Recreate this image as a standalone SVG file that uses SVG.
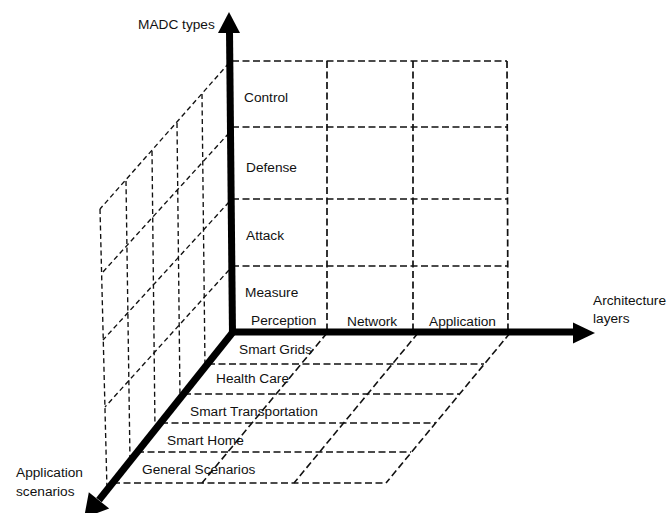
<svg xmlns="http://www.w3.org/2000/svg" width="670" height="513" viewBox="0 0 670 513">
<style>
  .t { font-family: "Liberation Sans", Arial, sans-serif; font-size: 13.7px; fill: #111; }
  .back { stroke: #111; stroke-width: 1.7; stroke-dasharray: 7 3.5; fill: none; }
  .floor { stroke: #111; stroke-width: 1.6; stroke-dasharray: 7 3.5; fill: none; }
  .side { stroke: #111; stroke-width: 1.35; stroke-dasharray: 5 3.3; fill: none; }
  .axis { stroke: #000; stroke-width: 7; fill: none; }
  .head { fill: #000; stroke: none; }
</style>
<rect width="670" height="513" fill="#fff"/>

<g id="back-wall">
  <line class="back" x1="232" y1="61" x2="507" y2="61"/>
  <line class="back" x1="232" y1="127" x2="507" y2="127"/>
  <line class="back" x1="232" y1="199" x2="508" y2="199"/>
  <line class="back" x1="232" y1="266" x2="508" y2="266"/>
  <line class="back" x1="327" y1="61" x2="327" y2="332"/>
  <line class="back" x1="413" y1="61" x2="413" y2="332"/>
  <line class="back" x1="507" y1="61" x2="508" y2="332"/>
</g>

<g id="side-wall">
  <line class="side" x1="229" y1="63" x2="100" y2="209"/>
  <line class="side" x1="229" y1="133" x2="102" y2="273"/>
  <line class="side" x1="229" y1="202" x2="103" y2="340"/>
  <line class="side" x1="229" y1="270" x2="105" y2="407"/>
  <line class="side" x1="202" y1="94" x2="205" y2="367"/>
  <line class="side" x1="177" y1="123" x2="180" y2="398"/>
  <line class="side" x1="152" y1="151" x2="155" y2="430"/>
  <line class="side" x1="126" y1="181" x2="130" y2="461"/>
  <line class="side" x1="100" y1="209" x2="107" y2="490"/>
</g>

<g id="floor">
  <line class="floor" x1="208" y1="364" x2="484" y2="364"/>
  <line class="floor" x1="184" y1="394" x2="459" y2="394"/>
  <line class="floor" x1="161" y1="423" x2="435" y2="423"/>
  <line class="floor" x1="137" y1="452" x2="411" y2="452"/>
  <line class="floor" x1="113" y1="483" x2="386" y2="483"/>
  <line class="floor" x1="327" y1="333" x2="202" y2="483"/>
  <line class="floor" x1="418" y1="333" x2="294" y2="483"/>
  <line class="floor" x1="510" y1="333" x2="386" y2="483"/>
</g>

<g id="connectors">
  <g id="axis-madc">
    <line class="axis" x1="232.5" y1="335" x2="229.5" y2="31"/>
    <polygon class="head" points="229,12 240,33 218,33"/>
  </g>
  <g id="axis-architecture">
    <line class="axis" x1="229" y1="332" x2="575" y2="332"/>
    <polygon class="head" points="595,333 573,322.5 573,343.5"/>
  </g>
  <g id="axis-scenarios">
    <line class="axis" x1="233" y1="332" x2="99" y2="500"/>
    <polygon class="head" points="84,518 88.8,492.2 109.2,508.4"/>
  </g>
</g>

<g id="labels-madc">
  <g id="node-madc-types"><text class="t" x="138" y="29">MADC types</text></g>
  <g id="node-control"><text class="t" x="244" y="102">Control</text></g>
  <g id="node-defense"><text class="t" x="246" y="172">Defense</text></g>
  <g id="node-attack"><text class="t" x="246" y="240">Attack</text></g>
  <g id="node-measure"><text class="t" x="245" y="297">Measure</text></g>
</g>
<g id="labels-layers">
  <g id="node-perception"><text class="t" x="251" y="325">Perception</text></g>
  <g id="node-network"><text class="t" x="347" y="326">Network</text></g>
  <g id="node-application"><text class="t" x="429" y="326">Application</text></g>
  <g id="node-architecture-layers"><text class="t" x="593" y="305">Architecture</text><text class="t" x="593" y="323">layers</text></g>
</g>
<g id="labels-scenarios">
  <g id="node-smart-grids"><text class="t" x="239" y="354">Smart Grids</text></g>
  <g id="node-health-care"><text class="t" x="216" y="383">Health Care</text></g>
  <g id="node-smart-transportation"><text class="t" x="190" y="416">Smart Transportation</text></g>
  <g id="node-smart-home"><text class="t" x="167" y="445">Smart Home</text></g>
  <g id="node-general-scenarios"><text class="t" x="142" y="474">General Scenarios</text></g>
  <g id="node-application-scenarios"><text class="t" x="16" y="477">Application</text><text class="t" x="16" y="496">scenarios</text></g>
</g>
</svg>
